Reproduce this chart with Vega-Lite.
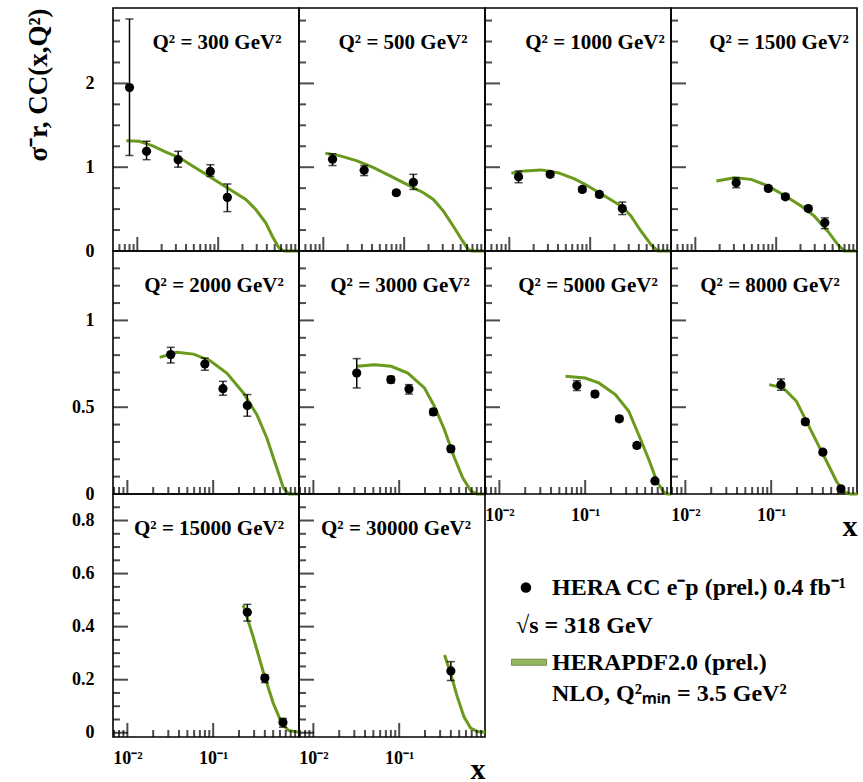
{
"$schema": "https://vega.github.io/schema/vega-lite/v6.json",
"padding": {"left": 23, "top": 7, "right": 0, "bottom": 0},
"background": "white",
"datasets": {
"pts": [
{"q":300,"x":0.008,"y":1.95,"lo":1.14,"hi":2.77},
{"q":300,"x":0.013,"y":1.19,"lo":1.09,"hi":1.31},
{"q":300,"x":0.032,"y":1.09,"lo":1.0,"hi":1.19},
{"q":300,"x":0.08,"y":0.95,"lo":0.89,"hi":1.03},
{"q":300,"x":0.13,"y":0.64,"lo":0.47,"hi":0.8},
{"q":500,"x":0.013,"y":1.095,"lo":1.02,"hi":1.16},
{"q":500,"x":0.032,"y":0.963,"lo":0.9,"hi":1.02},
{"q":500,"x":0.08,"y":0.695,"lo":0.67,"hi":0.72},
{"q":500,"x":0.13,"y":0.82,"lo":0.735,"hi":0.915},
{"q":1000,"x":0.013,"y":0.887,"lo":0.815,"hi":0.955},
{"q":1000,"x":0.032,"y":0.915,"lo":0.885,"hi":0.945},
{"q":1000,"x":0.08,"y":0.735,"lo":0.705,"hi":0.765},
{"q":1000,"x":0.13,"y":0.675,"lo":0.645,"hi":0.705},
{"q":1000,"x":0.25,"y":0.507,"lo":0.435,"hi":0.584},
{"q":1500,"x":0.032,"y":0.815,"lo":0.755,"hi":0.875},
{"q":1500,"x":0.08,"y":0.747,"lo":0.72,"hi":0.775},
{"q":1500,"x":0.13,"y":0.647,"lo":0.62,"hi":0.675},
{"q":1500,"x":0.25,"y":0.507,"lo":0.48,"hi":0.535},
{"q":1500,"x":0.4,"y":0.336,"lo":0.267,"hi":0.396},
{"q":2000,"x":0.032,"y":0.803,"lo":0.755,"hi":0.845},
{"q":2000,"x":0.08,"y":0.749,"lo":0.713,"hi":0.783},
{"q":2000,"x":0.13,"y":0.607,"lo":0.569,"hi":0.649},
{"q":2000,"x":0.25,"y":0.51,"lo":0.448,"hi":0.573},
{"q":3000,"x":0.032,"y":0.697,"lo":0.611,"hi":0.78},
{"q":3000,"x":0.08,"y":0.659,"lo":0.64,"hi":0.678},
{"q":3000,"x":0.13,"y":0.605,"lo":0.576,"hi":0.63},
{"q":3000,"x":0.25,"y":0.473,"lo":0.455,"hi":0.49},
{"q":3000,"x":0.4,"y":0.26,"lo":0.245,"hi":0.275},
{"q":5000,"x":0.08,"y":0.625,"lo":0.596,"hi":0.653},
{"q":5000,"x":0.13,"y":0.576,"lo":0.56,"hi":0.592},
{"q":5000,"x":0.25,"y":0.433,"lo":0.418,"hi":0.448},
{"q":5000,"x":0.4,"y":0.28,"lo":0.265,"hi":0.295},
{"q":5000,"x":0.65,"y":0.075,"lo":0.065,"hi":0.085},
{"q":8000,"x":0.13,"y":0.63,"lo":0.598,"hi":0.663},
{"q":8000,"x":0.25,"y":0.416,"lo":0.4,"hi":0.43},
{"q":8000,"x":0.4,"y":0.241,"lo":0.228,"hi":0.254},
{"q":8000,"x":0.65,"y":0.03,"lo":0.022,"hi":0.038},
{"q":15000,"x":0.25,"y":0.454,"lo":0.421,"hi":0.484},
{"q":15000,"x":0.4,"y":0.206,"lo":0.189,"hi":0.218},
{"q":15000,"x":0.65,"y":0.039,"lo":0.021,"hi":0.054},
{"q":30000,"x":0.4,"y":0.233,"lo":0.197,"hi":0.268}
],
"curve": [
{"q":300,"x":0.0073,"y":1.315},{"q":300,"x":0.0106,"y":1.31},{"q":300,"x":0.0155,"y":1.255},{"q":300,"x":0.0226,"y":1.18},{"q":300,"x":0.033,"y":1.115},{"q":300,"x":0.0482,"y":1.015},{"q":300,"x":0.0705,"y":0.915},{"q":300,"x":0.103,"y":0.815},{"q":300,"x":0.15,"y":0.716},{"q":300,"x":0.22,"y":0.615},{"q":300,"x":0.292,"y":0.495},{"q":300,"x":0.388,"y":0.336},{"q":300,"x":0.468,"y":0.176},{"q":300,"x":0.566,"y":0.036},{"q":300,"x":0.653,"y":0},{"q":300,"x":1.0,"y":0},
{"q":500,"x":0.0106,"y":1.167},{"q":500,"x":0.0162,"y":1.135},{"q":500,"x":0.0261,"y":1.075},{"q":500,"x":0.0418,"y":0.995},{"q":500,"x":0.0671,"y":0.896},{"q":500,"x":0.108,"y":0.795},{"q":500,"x":0.173,"y":0.695},{"q":500,"x":0.23,"y":0.615},{"q":500,"x":0.306,"y":0.476},{"q":500,"x":0.406,"y":0.296},{"q":500,"x":0.515,"y":0.135},{"q":500,"x":0.622,"y":0.016},{"q":500,"x":0.685,"y":0},{"q":500,"x":1.0,"y":0},
{"q":1000,"x":0.0106,"y":0.927},{"q":1000,"x":0.0155,"y":0.956},{"q":1000,"x":0.0248,"y":0.968},{"q":1000,"x":0.0399,"y":0.935},{"q":1000,"x":0.064,"y":0.86},{"q":1000,"x":0.085,"y":0.8},{"q":1000,"x":0.13,"y":0.695},{"q":1000,"x":0.2,"y":0.584},{"q":1000,"x":0.246,"y":0.536},{"q":1000,"x":0.321,"y":0.416},{"q":1000,"x":0.426,"y":0.236},{"q":1000,"x":0.566,"y":0.076},{"q":1000,"x":0.686,"y":0},{"q":1000,"x":1.0,"y":0},
{"q":1500,"x":0.0182,"y":0.836},{"q":1500,"x":0.0306,"y":0.875},{"q":1500,"x":0.049,"y":0.855},{"q":1500,"x":0.079,"y":0.776},{"q":1500,"x":0.127,"y":0.663},{"q":1500,"x":0.204,"y":0.536},{"q":1500,"x":0.297,"y":0.416},{"q":1500,"x":0.435,"y":0.236},{"q":1500,"x":0.578,"y":0.076},{"q":1500,"x":0.697,"y":0},{"q":1500,"x":1.0,"y":0},
{"q":2000,"x":0.0238,"y":0.787},{"q":2000,"x":0.0379,"y":0.816},{"q":2000,"x":0.059,"y":0.806},{"q":2000,"x":0.0923,"y":0.768},{"q":2000,"x":0.144,"y":0.697},{"q":2000,"x":0.225,"y":0.582},{"q":2000,"x":0.322,"y":0.458},{"q":2000,"x":0.421,"y":0.324},{"q":2000,"x":0.55,"y":0.151},{"q":2000,"x":0.657,"y":0.036},{"q":2000,"x":0.76,"y":0},{"q":2000,"x":1.0,"y":0},
{"q":3000,"x":0.0322,"y":0.736},{"q":3000,"x":0.0516,"y":0.745},{"q":3000,"x":0.0807,"y":0.736},{"q":3000,"x":0.126,"y":0.697},{"q":3000,"x":0.197,"y":0.611},{"q":3000,"x":0.257,"y":0.506},{"q":3000,"x":0.336,"y":0.372},{"q":3000,"x":0.44,"y":0.209},{"q":3000,"x":0.55,"y":0.093},{"q":3000,"x":0.687,"y":0.017},{"q":3000,"x":0.8,"y":0},{"q":3000,"x":1.0,"y":0},
{"q":5000,"x":0.059,"y":0.678},{"q":5000,"x":0.1,"y":0.668},{"q":5000,"x":0.144,"y":0.64},{"q":5000,"x":0.225,"y":0.573},{"q":5000,"x":0.322,"y":0.477},{"q":5000,"x":0.421,"y":0.34},{"q":5000,"x":0.55,"y":0.2},{"q":5000,"x":0.687,"y":0.07},{"q":5000,"x":0.822,"y":0.012},{"q":5000,"x":0.9,"y":0},{"q":5000,"x":1.0,"y":0},
{"q":8000,"x":0.0948,"y":0.63},{"q":8000,"x":0.138,"y":0.611},{"q":8000,"x":0.197,"y":0.534},{"q":8000,"x":0.257,"y":0.42},{"q":8000,"x":0.336,"y":0.305},{"q":8000,"x":0.44,"y":0.19},{"q":8000,"x":0.574,"y":0.075},{"q":8000,"x":0.687,"y":0.017},{"q":8000,"x":0.822,"y":0},{"q":8000,"x":1.0,"y":0},
{"q":15000,"x":0.224,"y":0.481},{"q":15000,"x":0.292,"y":0.362},{"q":15000,"x":0.382,"y":0.231},{"q":15000,"x":0.5,"y":0.112},{"q":15000,"x":0.628,"y":0.036},{"q":15000,"x":0.75,"y":0.009},{"q":15000,"x":1.0,"y":0.002},
{"q":30000,"x":0.338,"y":0.293},{"q":30000,"x":0.397,"y":0.224},{"q":30000,"x":0.475,"y":0.136},{"q":30000,"x":0.567,"y":0.061},{"q":30000,"x":0.678,"y":0.018},{"q":30000,"x":0.811,"y":0.005},{"q":30000,"x":1.0,"y":0.002}
],
"xt1": [
{"kind":"major","v":0.01},{"kind":"major","v":0.1},
{"kind":"minor","v":0.006},{"kind":"minor","v":0.007},{"kind":"minor","v":0.008},{"kind":"minor","v":0.009},
{"kind":"minor","v":0.02},{"kind":"minor","v":0.03},{"kind":"minor","v":0.04},{"kind":"minor","v":0.05},{"kind":"minor","v":0.06},{"kind":"minor","v":0.07},{"kind":"minor","v":0.08},{"kind":"minor","v":0.09},
{"kind":"minor","v":0.2},{"kind":"minor","v":0.3},{"kind":"minor","v":0.4},{"kind":"minor","v":0.5},{"kind":"minor","v":0.6},{"kind":"minor","v":0.7},{"kind":"minor","v":0.8},{"kind":"minor","v":0.9}
],
"xt23": [
{"kind":"major","v":0.01},{"kind":"major","v":0.1},
{"kind":"minor","v":0.007},{"kind":"minor","v":0.008},{"kind":"minor","v":0.009},
{"kind":"minor","v":0.02},{"kind":"minor","v":0.03},{"kind":"minor","v":0.04},{"kind":"minor","v":0.05},{"kind":"minor","v":0.06},{"kind":"minor","v":0.07},{"kind":"minor","v":0.08},{"kind":"minor","v":0.09},
{"kind":"minor","v":0.2},{"kind":"minor","v":0.3},{"kind":"minor","v":0.4},{"kind":"minor","v":0.5},{"kind":"minor","v":0.6},{"kind":"minor","v":0.7},{"kind":"minor","v":0.8},{"kind":"minor","v":0.9}
],
"yt1": [
{"kind":"major","v":1},{"kind":"major","v":2},
{"kind":"minor","v":0.25},{"kind":"minor","v":0.5},{"kind":"minor","v":0.75},{"kind":"minor","v":1.25},{"kind":"minor","v":1.5},{"kind":"minor","v":1.75},{"kind":"minor","v":2.25},{"kind":"minor","v":2.5},{"kind":"minor","v":2.75}
],
"yt2": [
{"kind":"major","v":0.5},{"kind":"major","v":1},
{"kind":"minor","v":0.1},{"kind":"minor","v":0.2},{"kind":"minor","v":0.3},{"kind":"minor","v":0.4},{"kind":"minor","v":0.6},{"kind":"minor","v":0.7},{"kind":"minor","v":0.8},{"kind":"minor","v":0.9},{"kind":"minor","v":1.1},{"kind":"minor","v":1.2},{"kind":"minor","v":1.3}
],
"yt3": [
{"kind":"major","v":0},{"kind":"major","v":0.2},{"kind":"major","v":0.4},{"kind":"major","v":0.6},{"kind":"major","v":0.8},
{"kind":"minor","v":0.05},{"kind":"minor","v":0.1},{"kind":"minor","v":0.15},{"kind":"minor","v":0.25},{"kind":"minor","v":0.3},{"kind":"minor","v":0.35},{"kind":"minor","v":0.45},{"kind":"minor","v":0.5},{"kind":"minor","v":0.55},{"kind":"minor","v":0.65},{"kind":"minor","v":0.7},{"kind":"minor","v":0.75},{"kind":"minor","v":0.85}
],
"legend": [
{"k":"data","r":1,"text":"HERA CC e⁻p (prel.) 0.4 fb⁻¹"},
{"k":"sqrt","r":2,"text":"√s = 318 GeV"},
{"k":"fit","r":3,"text":["HERAPDF2.0 (prel.)","NLO, Q²ₘᵢₙ = 3.5 GeV²"]}
]
},
"columns": 4,
"spacing": 0,
"bounds": "flush",
"concat": [
{"width":186,"height":243,"title":{"text":"Q² = 300 GeV²","dx":11},
"layer":[
{"data":{"name":"curve"},"transform":[{"filter":"datum.q == 300"}],"mark":{"type":"line","color":"#6a9a1c","strokeWidth":3},
"encoding":{"x":{"field":"x","type":"quantitative","scale":{"type":"log","domain":[0.005,1],"nice":false},"axis":null},
"y":{"field":"y","type":"quantitative","scale":{"domain":[0,2.9],"nice":false,"zero":false},"axis":{"values":[0,1,2],"format":"~g","labelPadding":19,"title":"σ⁻r, CC(x,Q²)","titleAnchor":"end","titleFontSize":27,"titlePadding":33}}}},
{"data":{"name":"xt1"},"transform":[{"filter":"datum.kind == 'major'"}],"mark":{"type":"tick","orient":"vertical","size":14,"thickness":2,"color":"black","yOffset":-7},"encoding":{"x":{"field":"v","type":"quantitative","axis":null},"y":{"datum":0,"type":"quantitative","axis":null}}},
{"data":{"name":"xt1"},"transform":[{"filter":"datum.kind == 'minor'"}],"mark":{"type":"tick","orient":"vertical","size":7,"thickness":2,"color":"black","yOffset":-3.5},"encoding":{"x":{"field":"v","type":"quantitative","axis":null},"y":{"datum":0,"type":"quantitative","axis":null}}},
{"data":{"name":"yt1"},"transform":[{"filter":"datum.kind == 'major'"}],"mark":{"type":"tick","orient":"horizontal","size":15,"thickness":2,"color":"black","xOffset":7.5},"encoding":{"x":{"datum":0.005,"type":"quantitative","axis":null},"y":{"field":"v","type":"quantitative","axis":null}}},
{"data":{"name":"yt1"},"transform":[{"filter":"datum.kind == 'minor'"}],"mark":{"type":"tick","orient":"horizontal","size":7,"thickness":2,"color":"black","xOffset":3.5},"encoding":{"x":{"datum":0.005,"type":"quantitative","axis":null},"y":{"field":"v","type":"quantitative","axis":null}}},
{"data":{"name":"pts"},"transform":[{"filter":"datum.q == 300"}],"mark":{"type":"rule","color":"black","strokeWidth":1.5},
"encoding":{"x":{"field":"x","type":"quantitative","axis":null},"y":{"field":"lo","type":"quantitative","axis":null},"y2":{"field":"hi"}}},
{"data":{"name":"pts"},"transform":[{"filter":"datum.q == 300"},{"fold":["lo","hi"],"as":["end","v"]}],"mark":{"type":"tick","orient":"horizontal","size":8,"thickness":1.5,"color":"black"},
"encoding":{"x":{"field":"x","type":"quantitative","axis":null},"y":{"field":"v","type":"quantitative","axis":null}}},
{"data":{"name":"pts"},"transform":[{"filter":"datum.q == 300"}],"mark":{"type":"circle","color":"black","opacity":1,"size":85},
"encoding":{"x":{"field":"x","type":"quantitative","axis":null},"y":{"field":"y","type":"quantitative","axis":null}}}
],
"resolve":{"axis":{"x":"independent","y":"independent"}}},

{"width":186,"height":243,"title":{"text":"Q² = 500 GeV²","dx":11},
"layer":[
{"data":{"name":"curve"},"transform":[{"filter":"datum.q == 500"}],"mark":{"type":"line","color":"#6a9a1c","strokeWidth":3},
"encoding":{"x":{"field":"x","type":"quantitative","scale":{"type":"log","domain":[0.005,1],"nice":false},"axis":null},
"y":{"field":"y","type":"quantitative","scale":{"domain":[0,2.9],"nice":false,"zero":false},"axis":null}}},
{"data":{"name":"xt1"},"transform":[{"filter":"datum.kind == 'major'"}],"mark":{"type":"tick","orient":"vertical","size":14,"thickness":2,"color":"black","yOffset":-7},"encoding":{"x":{"field":"v","type":"quantitative","axis":null},"y":{"datum":0,"type":"quantitative","axis":null}}},
{"data":{"name":"xt1"},"transform":[{"filter":"datum.kind == 'minor'"}],"mark":{"type":"tick","orient":"vertical","size":7,"thickness":2,"color":"black","yOffset":-3.5},"encoding":{"x":{"field":"v","type":"quantitative","axis":null},"y":{"datum":0,"type":"quantitative","axis":null}}},
{"data":{"name":"yt1"},"transform":[{"filter":"datum.kind == 'major'"}],"mark":{"type":"tick","orient":"horizontal","size":15,"thickness":2,"color":"black","xOffset":7.5},"encoding":{"x":{"datum":0.005,"type":"quantitative","axis":null},"y":{"field":"v","type":"quantitative","axis":null}}},
{"data":{"name":"yt1"},"transform":[{"filter":"datum.kind == 'minor'"}],"mark":{"type":"tick","orient":"horizontal","size":7,"thickness":2,"color":"black","xOffset":3.5},"encoding":{"x":{"datum":0.005,"type":"quantitative","axis":null},"y":{"field":"v","type":"quantitative","axis":null}}},
{"data":{"name":"pts"},"transform":[{"filter":"datum.q == 500"}],"mark":{"type":"rule","color":"black","strokeWidth":1.5},
"encoding":{"x":{"field":"x","type":"quantitative","axis":null},"y":{"field":"lo","type":"quantitative","axis":null},"y2":{"field":"hi"}}},
{"data":{"name":"pts"},"transform":[{"filter":"datum.q == 500"},{"fold":["lo","hi"],"as":["end","v"]}],"mark":{"type":"tick","orient":"horizontal","size":8,"thickness":1.5,"color":"black"},
"encoding":{"x":{"field":"x","type":"quantitative","axis":null},"y":{"field":"v","type":"quantitative","axis":null}}},
{"data":{"name":"pts"},"transform":[{"filter":"datum.q == 500"}],"mark":{"type":"circle","color":"black","opacity":1,"size":85},
"encoding":{"x":{"field":"x","type":"quantitative","axis":null},"y":{"field":"y","type":"quantitative","axis":null}}}
],
"resolve":{"axis":{"x":"independent","y":"independent"}}},

{"width":186,"height":243,"title":{"text":"Q² = 1000 GeV²","dx":17},
"layer":[
{"data":{"name":"curve"},"transform":[{"filter":"datum.q == 1000"}],"mark":{"type":"line","color":"#6a9a1c","strokeWidth":3},
"encoding":{"x":{"field":"x","type":"quantitative","scale":{"type":"log","domain":[0.005,1],"nice":false},"axis":null},
"y":{"field":"y","type":"quantitative","scale":{"domain":[0,2.9],"nice":false,"zero":false},"axis":null}}},
{"data":{"name":"xt1"},"transform":[{"filter":"datum.kind == 'major'"}],"mark":{"type":"tick","orient":"vertical","size":14,"thickness":2,"color":"black","yOffset":-7},"encoding":{"x":{"field":"v","type":"quantitative","axis":null},"y":{"datum":0,"type":"quantitative","axis":null}}},
{"data":{"name":"xt1"},"transform":[{"filter":"datum.kind == 'minor'"}],"mark":{"type":"tick","orient":"vertical","size":7,"thickness":2,"color":"black","yOffset":-3.5},"encoding":{"x":{"field":"v","type":"quantitative","axis":null},"y":{"datum":0,"type":"quantitative","axis":null}}},
{"data":{"name":"yt1"},"transform":[{"filter":"datum.kind == 'major'"}],"mark":{"type":"tick","orient":"horizontal","size":15,"thickness":2,"color":"black","xOffset":7.5},"encoding":{"x":{"datum":0.005,"type":"quantitative","axis":null},"y":{"field":"v","type":"quantitative","axis":null}}},
{"data":{"name":"yt1"},"transform":[{"filter":"datum.kind == 'minor'"}],"mark":{"type":"tick","orient":"horizontal","size":7,"thickness":2,"color":"black","xOffset":3.5},"encoding":{"x":{"datum":0.005,"type":"quantitative","axis":null},"y":{"field":"v","type":"quantitative","axis":null}}},
{"data":{"name":"pts"},"transform":[{"filter":"datum.q == 1000"}],"mark":{"type":"rule","color":"black","strokeWidth":1.5},
"encoding":{"x":{"field":"x","type":"quantitative","axis":null},"y":{"field":"lo","type":"quantitative","axis":null},"y2":{"field":"hi"}}},
{"data":{"name":"pts"},"transform":[{"filter":"datum.q == 1000"},{"fold":["lo","hi"],"as":["end","v"]}],"mark":{"type":"tick","orient":"horizontal","size":8,"thickness":1.5,"color":"black"},
"encoding":{"x":{"field":"x","type":"quantitative","axis":null},"y":{"field":"v","type":"quantitative","axis":null}}},
{"data":{"name":"pts"},"transform":[{"filter":"datum.q == 1000"}],"mark":{"type":"circle","color":"black","opacity":1,"size":85},
"encoding":{"x":{"field":"x","type":"quantitative","axis":null},"y":{"field":"y","type":"quantitative","axis":null}}}
],
"resolve":{"axis":{"x":"independent","y":"independent"}}},

{"width":186,"height":243,"title":{"text":"Q² = 1500 GeV²","dx":15},
"layer":[
{"data":{"name":"curve"},"transform":[{"filter":"datum.q == 1500"}],"mark":{"type":"line","color":"#6a9a1c","strokeWidth":3},
"encoding":{"x":{"field":"x","type":"quantitative","scale":{"type":"log","domain":[0.005,1],"nice":false},"axis":null},
"y":{"field":"y","type":"quantitative","scale":{"domain":[0,2.9],"nice":false,"zero":false},"axis":null}}},
{"data":{"name":"xt1"},"transform":[{"filter":"datum.kind == 'major'"}],"mark":{"type":"tick","orient":"vertical","size":14,"thickness":2,"color":"black","yOffset":-7},"encoding":{"x":{"field":"v","type":"quantitative","axis":null},"y":{"datum":0,"type":"quantitative","axis":null}}},
{"data":{"name":"xt1"},"transform":[{"filter":"datum.kind == 'minor'"}],"mark":{"type":"tick","orient":"vertical","size":7,"thickness":2,"color":"black","yOffset":-3.5},"encoding":{"x":{"field":"v","type":"quantitative","axis":null},"y":{"datum":0,"type":"quantitative","axis":null}}},
{"data":{"name":"yt1"},"transform":[{"filter":"datum.kind == 'major'"}],"mark":{"type":"tick","orient":"horizontal","size":15,"thickness":2,"color":"black","xOffset":7.5},"encoding":{"x":{"datum":0.005,"type":"quantitative","axis":null},"y":{"field":"v","type":"quantitative","axis":null}}},
{"data":{"name":"yt1"},"transform":[{"filter":"datum.kind == 'minor'"}],"mark":{"type":"tick","orient":"horizontal","size":7,"thickness":2,"color":"black","xOffset":3.5},"encoding":{"x":{"datum":0.005,"type":"quantitative","axis":null},"y":{"field":"v","type":"quantitative","axis":null}}},
{"data":{"name":"pts"},"transform":[{"filter":"datum.q == 1500"}],"mark":{"type":"rule","color":"black","strokeWidth":1.5},
"encoding":{"x":{"field":"x","type":"quantitative","axis":null},"y":{"field":"lo","type":"quantitative","axis":null},"y2":{"field":"hi"}}},
{"data":{"name":"pts"},"transform":[{"filter":"datum.q == 1500"},{"fold":["lo","hi"],"as":["end","v"]}],"mark":{"type":"tick","orient":"horizontal","size":8,"thickness":1.5,"color":"black"},
"encoding":{"x":{"field":"x","type":"quantitative","axis":null},"y":{"field":"v","type":"quantitative","axis":null}}},
{"data":{"name":"pts"},"transform":[{"filter":"datum.q == 1500"}],"mark":{"type":"circle","color":"black","opacity":1,"size":85},
"encoding":{"x":{"field":"x","type":"quantitative","axis":null},"y":{"field":"y","type":"quantitative","axis":null}}}
],
"resolve":{"axis":{"x":"independent","y":"independent"}}},

{"width":186,"height":243,"title":{"text":"Q² = 2000 GeV²","dx":8},
"layer":[
{"data":{"name":"curve"},"transform":[{"filter":"datum.q == 2000"}],"mark":{"type":"line","color":"#6a9a1c","strokeWidth":3},
"encoding":{"x":{"field":"x","type":"quantitative","scale":{"type":"log","domain":[0.0068,1],"nice":false},"axis":null},
"y":{"field":"y","type":"quantitative","scale":{"domain":[0,1.4],"nice":false,"zero":false},"axis":{"values":[0,0.5,1],"format":"~g","labelPadding":19,"title":null}}}},
{"data":{"name":"xt23"},"transform":[{"filter":"datum.kind == 'major'"}],"mark":{"type":"tick","orient":"vertical","size":14,"thickness":2,"color":"black","yOffset":-7},"encoding":{"x":{"field":"v","type":"quantitative","axis":null},"y":{"datum":0,"type":"quantitative","axis":null}}},
{"data":{"name":"xt23"},"transform":[{"filter":"datum.kind == 'minor'"}],"mark":{"type":"tick","orient":"vertical","size":7,"thickness":2,"color":"black","yOffset":-3.5},"encoding":{"x":{"field":"v","type":"quantitative","axis":null},"y":{"datum":0,"type":"quantitative","axis":null}}},
{"data":{"name":"yt2"},"transform":[{"filter":"datum.kind == 'major'"}],"mark":{"type":"tick","orient":"horizontal","size":15,"thickness":2,"color":"black","xOffset":7.5},"encoding":{"x":{"datum":0.0068,"type":"quantitative","axis":null},"y":{"field":"v","type":"quantitative","axis":null}}},
{"data":{"name":"yt2"},"transform":[{"filter":"datum.kind == 'minor'"}],"mark":{"type":"tick","orient":"horizontal","size":7,"thickness":2,"color":"black","xOffset":3.5},"encoding":{"x":{"datum":0.0068,"type":"quantitative","axis":null},"y":{"field":"v","type":"quantitative","axis":null}}},
{"data":{"name":"pts"},"transform":[{"filter":"datum.q == 2000"}],"mark":{"type":"rule","color":"black","strokeWidth":1.5},
"encoding":{"x":{"field":"x","type":"quantitative","axis":null},"y":{"field":"lo","type":"quantitative","axis":null},"y2":{"field":"hi"}}},
{"data":{"name":"pts"},"transform":[{"filter":"datum.q == 2000"},{"fold":["lo","hi"],"as":["end","v"]}],"mark":{"type":"tick","orient":"horizontal","size":8,"thickness":1.5,"color":"black"},
"encoding":{"x":{"field":"x","type":"quantitative","axis":null},"y":{"field":"v","type":"quantitative","axis":null}}},
{"data":{"name":"pts"},"transform":[{"filter":"datum.q == 2000"}],"mark":{"type":"circle","color":"black","opacity":1,"size":85},
"encoding":{"x":{"field":"x","type":"quantitative","axis":null},"y":{"field":"y","type":"quantitative","axis":null}}}
],
"resolve":{"axis":{"x":"independent","y":"independent"}}},

{"width":186,"height":243,"title":{"text":"Q² = 3000 GeV²","dx":8},
"layer":[
{"data":{"name":"curve"},"transform":[{"filter":"datum.q == 3000"}],"mark":{"type":"line","color":"#6a9a1c","strokeWidth":3},
"encoding":{"x":{"field":"x","type":"quantitative","scale":{"type":"log","domain":[0.0068,1],"nice":false},"axis":null},
"y":{"field":"y","type":"quantitative","scale":{"domain":[0,1.4],"nice":false,"zero":false},"axis":null}}},
{"data":{"name":"xt23"},"transform":[{"filter":"datum.kind == 'major'"}],"mark":{"type":"tick","orient":"vertical","size":14,"thickness":2,"color":"black","yOffset":-7},"encoding":{"x":{"field":"v","type":"quantitative","axis":null},"y":{"datum":0,"type":"quantitative","axis":null}}},
{"data":{"name":"xt23"},"transform":[{"filter":"datum.kind == 'minor'"}],"mark":{"type":"tick","orient":"vertical","size":7,"thickness":2,"color":"black","yOffset":-3.5},"encoding":{"x":{"field":"v","type":"quantitative","axis":null},"y":{"datum":0,"type":"quantitative","axis":null}}},
{"data":{"name":"yt2"},"transform":[{"filter":"datum.kind == 'major'"}],"mark":{"type":"tick","orient":"horizontal","size":15,"thickness":2,"color":"black","xOffset":7.5},"encoding":{"x":{"datum":0.0068,"type":"quantitative","axis":null},"y":{"field":"v","type":"quantitative","axis":null}}},
{"data":{"name":"yt2"},"transform":[{"filter":"datum.kind == 'minor'"}],"mark":{"type":"tick","orient":"horizontal","size":7,"thickness":2,"color":"black","xOffset":3.5},"encoding":{"x":{"datum":0.0068,"type":"quantitative","axis":null},"y":{"field":"v","type":"quantitative","axis":null}}},
{"data":{"name":"pts"},"transform":[{"filter":"datum.q == 3000"}],"mark":{"type":"rule","color":"black","strokeWidth":1.5},
"encoding":{"x":{"field":"x","type":"quantitative","axis":null},"y":{"field":"lo","type":"quantitative","axis":null},"y2":{"field":"hi"}}},
{"data":{"name":"pts"},"transform":[{"filter":"datum.q == 3000"},{"fold":["lo","hi"],"as":["end","v"]}],"mark":{"type":"tick","orient":"horizontal","size":8,"thickness":1.5,"color":"black"},
"encoding":{"x":{"field":"x","type":"quantitative","axis":null},"y":{"field":"v","type":"quantitative","axis":null}}},
{"data":{"name":"pts"},"transform":[{"filter":"datum.q == 3000"}],"mark":{"type":"circle","color":"black","opacity":1,"size":85},
"encoding":{"x":{"field":"x","type":"quantitative","axis":null},"y":{"field":"y","type":"quantitative","axis":null}}}
],
"resolve":{"axis":{"x":"independent","y":"independent"}}},

{"width":186,"height":243,"title":{"text":"Q² = 5000 GeV²","dx":10},
"layer":[
{"data":{"name":"curve"},"transform":[{"filter":"datum.q == 5000"}],"mark":{"type":"line","color":"#6a9a1c","strokeWidth":3},
"encoding":{"x":{"field":"x","type":"quantitative","scale":{"type":"log","domain":[0.0068,1],"nice":false},"axis":{"values":[0.01,0.1],"labelExpr":"datum.value < 0.05 ? '10⁻²' : '10⁻¹'","labelPadding":12,"title":null}},
"y":{"field":"y","type":"quantitative","scale":{"domain":[0,1.4],"nice":false,"zero":false},"axis":null}}},
{"data":{"name":"xt23"},"transform":[{"filter":"datum.kind == 'major'"}],"mark":{"type":"tick","orient":"vertical","size":14,"thickness":2,"color":"black","yOffset":-7},"encoding":{"x":{"field":"v","type":"quantitative","axis":null},"y":{"datum":0,"type":"quantitative","axis":null}}},
{"data":{"name":"xt23"},"transform":[{"filter":"datum.kind == 'minor'"}],"mark":{"type":"tick","orient":"vertical","size":7,"thickness":2,"color":"black","yOffset":-3.5},"encoding":{"x":{"field":"v","type":"quantitative","axis":null},"y":{"datum":0,"type":"quantitative","axis":null}}},
{"data":{"name":"yt2"},"transform":[{"filter":"datum.kind == 'major'"}],"mark":{"type":"tick","orient":"horizontal","size":15,"thickness":2,"color":"black","xOffset":7.5},"encoding":{"x":{"datum":0.0068,"type":"quantitative","axis":null},"y":{"field":"v","type":"quantitative","axis":null}}},
{"data":{"name":"yt2"},"transform":[{"filter":"datum.kind == 'minor'"}],"mark":{"type":"tick","orient":"horizontal","size":7,"thickness":2,"color":"black","xOffset":3.5},"encoding":{"x":{"datum":0.0068,"type":"quantitative","axis":null},"y":{"field":"v","type":"quantitative","axis":null}}},
{"data":{"name":"pts"},"transform":[{"filter":"datum.q == 5000"}],"mark":{"type":"rule","color":"black","strokeWidth":1.5},
"encoding":{"x":{"field":"x","type":"quantitative","axis":null},"y":{"field":"lo","type":"quantitative","axis":null},"y2":{"field":"hi"}}},
{"data":{"name":"pts"},"transform":[{"filter":"datum.q == 5000"},{"fold":["lo","hi"],"as":["end","v"]}],"mark":{"type":"tick","orient":"horizontal","size":8,"thickness":1.5,"color":"black"},
"encoding":{"x":{"field":"x","type":"quantitative","axis":null},"y":{"field":"v","type":"quantitative","axis":null}}},
{"data":{"name":"pts"},"transform":[{"filter":"datum.q == 5000"}],"mark":{"type":"circle","color":"black","opacity":1,"size":85},
"encoding":{"x":{"field":"x","type":"quantitative","axis":null},"y":{"field":"y","type":"quantitative","axis":null}}}
],
"resolve":{"axis":{"x":"independent","y":"independent"}}},

{"width":186,"height":243,"title":{"text":"Q² = 8000 GeV²","dx":6},
"layer":[
{"data":{"name":"curve"},"transform":[{"filter":"datum.q == 8000"}],"mark":{"type":"line","color":"#6a9a1c","strokeWidth":3},
"encoding":{"x":{"field":"x","type":"quantitative","scale":{"type":"log","domain":[0.0068,1],"nice":false},"axis":{"values":[0.01,0.1],"labelExpr":"datum.value < 0.05 ? '10⁻²' : '10⁻¹'","labelPadding":12,"title":"x","titleAnchor":"end","titleFontSize":30,"titlePadding":-13}},
"y":{"field":"y","type":"quantitative","scale":{"domain":[0,1.4],"nice":false,"zero":false},"axis":null}}},
{"data":{"name":"xt23"},"transform":[{"filter":"datum.kind == 'major'"}],"mark":{"type":"tick","orient":"vertical","size":14,"thickness":2,"color":"black","yOffset":-7},"encoding":{"x":{"field":"v","type":"quantitative","axis":null},"y":{"datum":0,"type":"quantitative","axis":null}}},
{"data":{"name":"xt23"},"transform":[{"filter":"datum.kind == 'minor'"}],"mark":{"type":"tick","orient":"vertical","size":7,"thickness":2,"color":"black","yOffset":-3.5},"encoding":{"x":{"field":"v","type":"quantitative","axis":null},"y":{"datum":0,"type":"quantitative","axis":null}}},
{"data":{"name":"yt2"},"transform":[{"filter":"datum.kind == 'major'"}],"mark":{"type":"tick","orient":"horizontal","size":15,"thickness":2,"color":"black","xOffset":7.5},"encoding":{"x":{"datum":0.0068,"type":"quantitative","axis":null},"y":{"field":"v","type":"quantitative","axis":null}}},
{"data":{"name":"yt2"},"transform":[{"filter":"datum.kind == 'minor'"}],"mark":{"type":"tick","orient":"horizontal","size":7,"thickness":2,"color":"black","xOffset":3.5},"encoding":{"x":{"datum":0.0068,"type":"quantitative","axis":null},"y":{"field":"v","type":"quantitative","axis":null}}},
{"data":{"name":"pts"},"transform":[{"filter":"datum.q == 8000"}],"mark":{"type":"rule","color":"black","strokeWidth":1.5},
"encoding":{"x":{"field":"x","type":"quantitative","axis":null},"y":{"field":"lo","type":"quantitative","axis":null},"y2":{"field":"hi"}}},
{"data":{"name":"pts"},"transform":[{"filter":"datum.q == 8000"},{"fold":["lo","hi"],"as":["end","v"]}],"mark":{"type":"tick","orient":"horizontal","size":8,"thickness":1.5,"color":"black"},
"encoding":{"x":{"field":"x","type":"quantitative","axis":null},"y":{"field":"v","type":"quantitative","axis":null}}},
{"data":{"name":"pts"},"transform":[{"filter":"datum.q == 8000"}],"mark":{"type":"circle","color":"black","opacity":1,"size":85},
"encoding":{"x":{"field":"x","type":"quantitative","axis":null},"y":{"field":"y","type":"quantitative","axis":null}}}
],
"resolve":{"axis":{"x":"independent","y":"independent"}}},

{"width":186,"height":243,"title":{"text":"Q² = 15000 GeV²","dx":3},
"layer":[
{"data":{"name":"curve"},"transform":[{"filter":"datum.q == 15000"}],"mark":{"type":"line","color":"#6a9a1c","strokeWidth":3},
"encoding":{"x":{"field":"x","type":"quantitative","scale":{"type":"log","domain":[0.0068,1],"nice":false},"axis":{"values":[0.01,0.1],"labelExpr":"datum.value < 0.05 ? '10⁻²' : '10⁻¹'","labelPadding":12,"title":null}},
"y":{"field":"y","type":"quantitative","scale":{"domain":[-0.016,0.9],"nice":false,"zero":false},"axis":{"values":[0,0.2,0.4,0.6,0.8],"format":"~g","labelPadding":19,"title":null}}}},
{"data":{"name":"xt23"},"transform":[{"filter":"datum.kind == 'major'"}],"mark":{"type":"tick","orient":"vertical","size":14,"thickness":2,"color":"black","yOffset":-7},"encoding":{"x":{"field":"v","type":"quantitative","axis":null},"y":{"datum":-0.016,"type":"quantitative","axis":null}}},
{"data":{"name":"xt23"},"transform":[{"filter":"datum.kind == 'minor'"}],"mark":{"type":"tick","orient":"vertical","size":7,"thickness":2,"color":"black","yOffset":-3.5},"encoding":{"x":{"field":"v","type":"quantitative","axis":null},"y":{"datum":-0.016,"type":"quantitative","axis":null}}},
{"data":{"name":"yt3"},"transform":[{"filter":"datum.kind == 'major'"}],"mark":{"type":"tick","orient":"horizontal","size":15,"thickness":2,"color":"black","xOffset":7.5},"encoding":{"x":{"datum":0.0068,"type":"quantitative","axis":null},"y":{"field":"v","type":"quantitative","axis":null}}},
{"data":{"name":"yt3"},"transform":[{"filter":"datum.kind == 'minor'"}],"mark":{"type":"tick","orient":"horizontal","size":7,"thickness":2,"color":"black","xOffset":3.5},"encoding":{"x":{"datum":0.0068,"type":"quantitative","axis":null},"y":{"field":"v","type":"quantitative","axis":null}}},
{"data":{"name":"pts"},"transform":[{"filter":"datum.q == 15000"}],"mark":{"type":"rule","color":"black","strokeWidth":1.5},
"encoding":{"x":{"field":"x","type":"quantitative","axis":null},"y":{"field":"lo","type":"quantitative","axis":null},"y2":{"field":"hi"}}},
{"data":{"name":"pts"},"transform":[{"filter":"datum.q == 15000"},{"fold":["lo","hi"],"as":["end","v"]}],"mark":{"type":"tick","orient":"horizontal","size":8,"thickness":1.5,"color":"black"},
"encoding":{"x":{"field":"x","type":"quantitative","axis":null},"y":{"field":"v","type":"quantitative","axis":null}}},
{"data":{"name":"pts"},"transform":[{"filter":"datum.q == 15000"}],"mark":{"type":"circle","color":"black","opacity":1,"size":85},
"encoding":{"x":{"field":"x","type":"quantitative","axis":null},"y":{"field":"y","type":"quantitative","axis":null}}}
],
"resolve":{"axis":{"x":"independent","y":"independent"}}},

{"width":186,"height":243,"title":{"text":"Q² = 30000 GeV²","dx":4},
"layer":[
{"data":{"name":"curve"},"transform":[{"filter":"datum.q == 30000"}],"mark":{"type":"line","color":"#6a9a1c","strokeWidth":3},
"encoding":{"x":{"field":"x","type":"quantitative","scale":{"type":"log","domain":[0.0068,1],"nice":false},"axis":{"values":[0.01,0.1],"labelExpr":"datum.value < 0.05 ? '10⁻²' : '10⁻¹'","labelPadding":12,"title":"x","titleAnchor":"end","titleFontSize":30,"titlePadding":-13}},
"y":{"field":"y","type":"quantitative","scale":{"domain":[-0.016,0.9],"nice":false,"zero":false},"axis":null}}},
{"data":{"name":"xt23"},"transform":[{"filter":"datum.kind == 'major'"}],"mark":{"type":"tick","orient":"vertical","size":14,"thickness":2,"color":"black","yOffset":-7},"encoding":{"x":{"field":"v","type":"quantitative","axis":null},"y":{"datum":-0.016,"type":"quantitative","axis":null}}},
{"data":{"name":"xt23"},"transform":[{"filter":"datum.kind == 'minor'"}],"mark":{"type":"tick","orient":"vertical","size":7,"thickness":2,"color":"black","yOffset":-3.5},"encoding":{"x":{"field":"v","type":"quantitative","axis":null},"y":{"datum":-0.016,"type":"quantitative","axis":null}}},
{"data":{"name":"yt3"},"transform":[{"filter":"datum.kind == 'major'"}],"mark":{"type":"tick","orient":"horizontal","size":15,"thickness":2,"color":"black","xOffset":7.5},"encoding":{"x":{"datum":0.0068,"type":"quantitative","axis":null},"y":{"field":"v","type":"quantitative","axis":null}}},
{"data":{"name":"yt3"},"transform":[{"filter":"datum.kind == 'minor'"}],"mark":{"type":"tick","orient":"horizontal","size":7,"thickness":2,"color":"black","xOffset":3.5},"encoding":{"x":{"datum":0.0068,"type":"quantitative","axis":null},"y":{"field":"v","type":"quantitative","axis":null}}},
{"data":{"name":"pts"},"transform":[{"filter":"datum.q == 30000"}],"mark":{"type":"rule","color":"black","strokeWidth":1.5},
"encoding":{"x":{"field":"x","type":"quantitative","axis":null},"y":{"field":"lo","type":"quantitative","axis":null},"y2":{"field":"hi"}}},
{"data":{"name":"pts"},"transform":[{"filter":"datum.q == 30000"},{"fold":["lo","hi"],"as":["end","v"]}],"mark":{"type":"tick","orient":"horizontal","size":8,"thickness":1.5,"color":"black"},
"encoding":{"x":{"field":"x","type":"quantitative","axis":null},"y":{"field":"v","type":"quantitative","axis":null}}},
{"data":{"name":"pts"},"transform":[{"filter":"datum.q == 30000"}],"mark":{"type":"circle","color":"black","opacity":1,"size":85},
"encoding":{"x":{"field":"x","type":"quantitative","axis":null},"y":{"field":"y","type":"quantitative","axis":null}}}
],
"resolve":{"axis":{"x":"independent","y":"independent"}}},

{"width":186,"height":243,"view":{"stroke":null},
"data":{"name":"legend"},
"layer":[
{"transform":[{"filter":"datum.k == 'data'"}],"mark":{"type":"circle","color":"black","opacity":1,"size":110},
"encoding":{"x":{"datum":0.22,"type":"quantitative","scale":{"domain":[0,1]},"axis":null},"y":{"field":"r","type":"quantitative","scale":{"domain":[-1.49,4.74],"reverse":true},"axis":null}}},
{"transform":[{"filter":"datum.k == 'fit'"}],"mark":{"type":"tick","orient":"horizontal","size":35,"thickness":6,"color":"#6a9a1c","stroke":"#3b5a0a","strokeWidth":1},
"encoding":{"x":{"datum":0.237,"type":"quantitative","axis":null},"y":{"field":"r","type":"quantitative","axis":null}}},
{"transform":[{"filter":"datum.k != 'sqrt'"}],"mark":{"type":"text","align":"left","baseline":"alphabetic","dy":8,"lineHeight":31,"font":"Liberation Serif","fontWeight":"bold","fontSize":24,"color":"black"},
"encoding":{"x":{"datum":0.36,"type":"quantitative","axis":null},"y":{"field":"r","type":"quantitative","axis":null},"text":{"field":"text"}}},
{"transform":[{"filter":"datum.k == 'sqrt'"}],"mark":{"type":"text","align":"left","baseline":"alphabetic","dy":8,"font":"Liberation Serif","fontWeight":"bold","fontSize":24,"color":"black"},
"encoding":{"x":{"datum":0.167,"type":"quantitative","axis":null},"y":{"field":"r","type":"quantitative","axis":null},"text":{"field":"text"}}}
]}
],
"config": {
"view": {"stroke": "black", "strokeWidth": 1.6},
"axis": {"domain": false, "ticks": false, "grid": false, "labelFont": "Liberation Serif", "labelFontWeight": "bold", "labelFontSize": 18, "labelColor": "black", "titleFont": "Liberation Serif", "titleFontWeight": "bold", "titleColor": "black"},
"title": {"anchor": "middle", "offset": -45, "font": "Liberation Serif", "fontWeight": "bold", "fontSize": 21, "color": "black"},
"font": "Liberation Serif"
}
}
